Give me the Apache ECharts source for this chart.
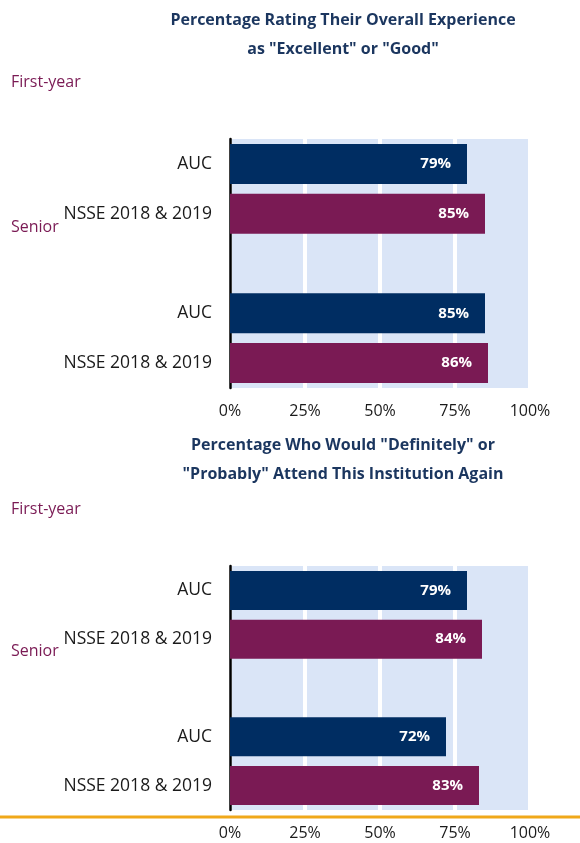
<!DOCTYPE html>
<html>
<head>
  <meta charset="utf-8">
  <title>NSSE Satisfaction</title>
  <script src="https://cdn.jsdelivr.net/npm/echarts/dist/echarts.min.js"></script>
  <style>
    html, body { margin: 0; padding: 0; background: #fff; }
    #chart-container { width: 580px; height: 843px; }
  </style>
</head>
<body>
<div id="chart-container"></div>

<script>
  // data
  var categories = ['AUC', 'NSSE 2018 & 2019', '', 'AUC', 'NSSE 2018 & 2019'];
  var experienceValues = [79, 85, null, 85, 86];
  var attendAgainValues = [79, 84, null, 72, 83];
  var barColors = ['#002D62', '#7A1A54', '#002D62', '#002D62', '#7A1A54'];
  var tickLabels = ['0%', '25%', '50%', '75%', '100%'];
  var titles = [
    'Percentage Rating Their Overall Experience\nas "Excellent" or "Good"',
    'Percentage Who Would "Definitely" or\n"Probably" Attend This Institution Again'
  ];

  var font = '"Open Sans", "Noto Sans", sans-serif';
  var myChart = echarts.init(document.getElementById('chart-container'));

  function barData(values) {
    return values.map(function (v, i) {
      return { value: v, itemStyle: { color: barColors[i] } };
    });
  }

  function xAxisFor(gridIndex, margin) {
    return {
      type: 'value', gridIndex: gridIndex, min: 0, max: 100, interval: 25,
      axisLine: { show: false }, axisTick: { show: false },
      splitLine: { show: true, lineStyle: { color: '#ffffff', width: 4 } },
      axisLabel: {
        margin: margin, color: '#1a1a1a', fontSize: 16, fontFamily: font,
        formatter: function (v) { return tickLabels[v / 25]; }
      }
    };
  }

  function yAxisFor(gridIndex) {
    return {
      type: 'category', gridIndex: gridIndex, data: categories, inverse: true,
      axisLine: { show: true, lineStyle: { color: '#000', width: 2.5 } },
      axisTick: { show: false },
      axisLabel: { margin: 18, color: '#1a1a1a', fontSize: 17.5, fontFamily: font }
    };
  }

  function seriesFor(idx, values, barWidth) {
    return {
      type: 'bar', xAxisIndex: idx, yAxisIndex: idx,
      data: barData(values), barWidth: barWidth,
      label: {
        show: true, position: 'insideRight', distance: 16,
        color: '#fff', fontWeight: 'bold', fontSize: 15, fontFamily: font,
        formatter: function (p) { return p.value + '%'; }
      }
    };
  }

  function sideText(x, y, text) {
    return {
      type: 'text', left: x, top: y,
      style: { text: text, fill: '#7A1A54', font: '16px ' + font }
    };
  }

  myChart.setOption({
    animation: false,
    title: [
      { text: titles[0], left: 338, top: 1, textAlign: 'center',
        textStyle: { color: '#1B365F', fontSize: 16, fontWeight: 'bold', fontFamily: font, lineHeight: 29 } },
      { text: titles[1], left: 338, top: 426, textAlign: 'center',
        textStyle: { color: '#1B365F', fontSize: 16, fontWeight: 'bold', fontFamily: font, lineHeight: 29 } }
    ],
    grid: [
      { left: 230, width: 300, top: 139, height: 249, containLabel: false,
        show: true, backgroundColor: '#DAE5F7', borderWidth: 0 },
      { left: 230, width: 300, top: 566, height: 244, containLabel: false,
        show: true, backgroundColor: '#DAE5F7', borderWidth: 0 }
    ],
    xAxis: [xAxisFor(0, 15), xAxisFor(1, 15)],
    yAxis: [yAxisFor(0), yAxisFor(1)],
    series: [seriesFor(0, experienceValues, 40), seriesFor(1, attendAgainValues, 39)],
    graphic: [
      sideText(11, 74, 'First-year'),
      sideText(11, 219, 'Senior'),
      sideText(11, 501, 'First-year'),
      sideText(11, 643, 'Senior'),
      { type: 'line', shape: { x1: 0, y1: 817, x2: 580, y2: 817 },
        style: { stroke: '#F0A81A', lineWidth: 3 } }
    ]
  });
</script>
</body>
</html>
